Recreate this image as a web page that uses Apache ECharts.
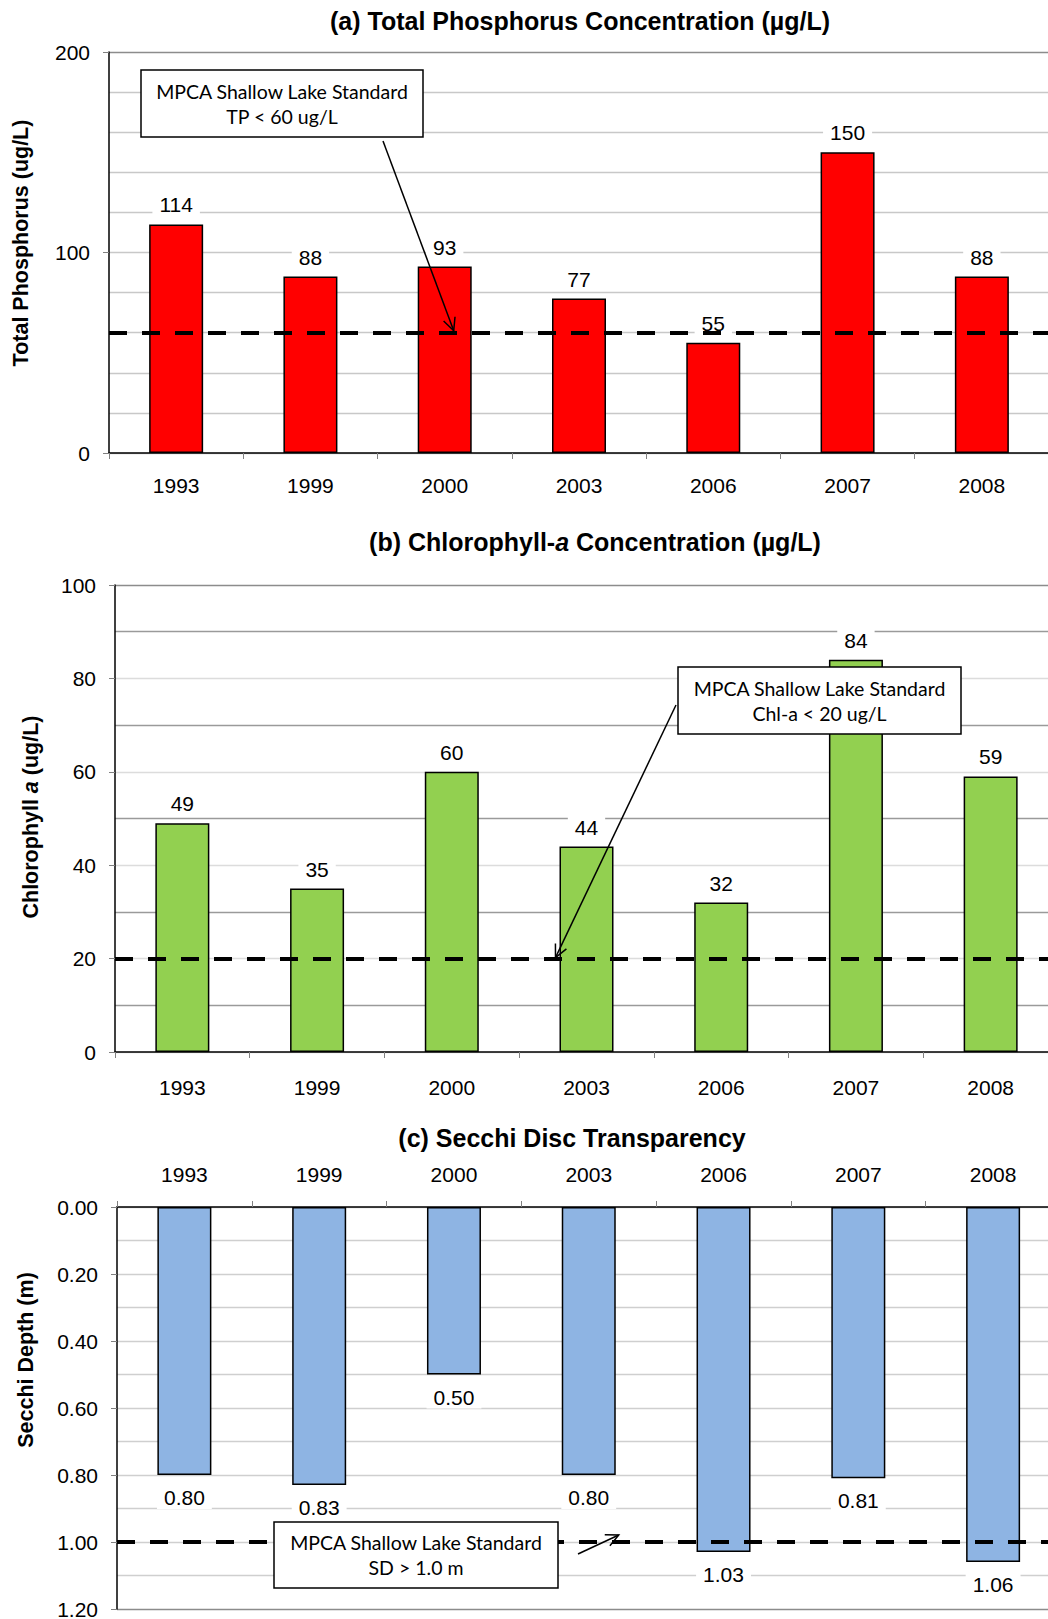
<!DOCTYPE html>
<html>
<head>
<meta charset="utf-8">
<script src="https://cdn.jsdelivr.net/npm/echarts@6/dist/echarts.min.js"></script>
<style>
  html, body { margin: 0; padding: 0; background: #fff; }
  #chart { width: 1048px; height: 1619px; }
</style>
</head>
<body>
<div id="chart"></div>
<script>
// Sampling years shared by all three panels
const years = ['1993', '1999', '2000', '2003', '2006', '2007', '2008'];

// (a) Total phosphorus, ug/L
const tpValues = [114, 88, 93, 77, 55, 150, 88];
const tpStandard = 60;

// (b) Chlorophyll-a, ug/L
const chlaValues = [49, 35, 60, 44, 32, 84, 59];
const chlaStandard = 20;

// (c) Secchi depth, m
const secchiValues = [0.80, 0.83, 0.50, 0.80, 1.03, 0.81, 1.06];
const secchiStandard = 1.0;

// Standard call-out texts
const tpNote = ['MPCA Shallow Lake Standard', 'TP < 60 ug/L'];
const chlaNote = ['MPCA Shallow Lake Standard', 'Chl-a < 20 ug/L'];
const secchiNote = ['MPCA Shallow Lake Standard', 'SD > 1.0 m'];

const FONT = '"Liberation Sans", Arial, Helvetica, sans-serif';
const NOTE_FONT = 'Lato, "Open Sans", sans-serif';
const TICK_SIZE = 21;

const chart = echarts.init(document.getElementById('chart'), null, { renderer: 'svg' });

function categoryAxis(gridIndex, position, margin) {
  return {
    type: 'category',
    gridIndex,
    position,
    data: years,
    axisLine: { show: true, lineStyle: { color: '#000', width: 1.5 } },
    axisTick: { show: true, length: 6, lineStyle: { color: '#808080', width: 1 } },
    axisLabel: { fontSize: TICK_SIZE, color: '#000', fontFamily: FONT, margin },
    splitLine: { show: false }
  };
}

function valueAxis(gridIndex, cfg) {
  return Object.assign({
    type: 'value',
    gridIndex,
    axisLine: { show: true, lineStyle: { color: '#000', width: 1.5 } },
    axisTick: { show: true, length: 6, lineStyle: { color: '#808080', width: 1 } },
    axisLabel: { fontSize: TICK_SIZE, color: '#000', fontFamily: FONT, margin: 19 },
    minorTick: { show: false, splitNumber: 2 },
    minorSplitLine: { show: true, lineStyle: { color: '#c8c8c8', width: 1.3 } },
    splitLine: { show: true, lineStyle: { color: '#c8c8c8', width: 1.3 } }
  }, cfg);
}

function standardLine(value) {
  return {
    silent: true,
    symbol: 'none',
    label: { show: false },
    emphasis: { disabled: true },
    lineStyle: { color: '#000', type: [18, 15], width: 4 },
    data: [{ yAxis: value }]
  };
}

function valueLabel(position, distance, formatter) {
  return {
    show: true,
    position,
    distance,
    fontSize: TICK_SIZE,
    color: '#000',
    fontFamily: FONT,
    backgroundColor: '#fff',
    padding: [1, 7],
    formatter
  };
}

const option = {
  animation: false,
  backgroundColor: '#fff',
  grid: [
    { left: 109, top: 52, width: 940, height: 401, outerBoundsMode: 'none' },
    { left: 115, top: 585, width: 943, height: 467, outerBoundsMode: 'none' },
    { left: 117, top: 1207, width: 943.5, height: 402, outerBoundsMode: 'none' }
  ],
  xAxis: [
    categoryAxis(0, 'bottom', 22),
    categoryAxis(1, 'bottom', 25),
    categoryAxis(2, 'top', 22)
  ],
  yAxis: [
    valueAxis(0, {
      min: 0, max: 200, interval: 100,
      minorTick: { show: false, splitNumber: 5 },
      splitLine: { show: true, lineStyle: { color: ['#c8c8c8', '#c8c8c8', '#8c8c8c'], width: 1.3 } }
    }),
    valueAxis(1, {
      min: 0, max: 100, interval: 20,
      minorSplitLine: { show: true, lineStyle: { color: '#9a9a9a', width: 1.3 } },
      splitLine: { show: true, lineStyle: { color: ['#dcdcdc', '#dcdcdc', '#dcdcdc', '#dcdcdc', '#dcdcdc', '#8c8c8c'], width: 1.3 } }
    }),
    valueAxis(2, {
      min: 0, max: 1.2, interval: 0.2, inverse: true,
      axisLabel: { fontSize: TICK_SIZE, color: '#000', fontFamily: FONT, margin: 19, formatter: v => v.toFixed(2) },
      minorSplitLine: { show: true, lineStyle: { color: '#cfcfcf', width: 1.3 } },
      splitLine: { show: true, lineStyle: { color: ['#cfcfcf', '#cfcfcf', '#cfcfcf', '#cfcfcf', '#cfcfcf', '#cfcfcf', '#8c8c8c'], width: 1.3 } }
    })
  ],
  series: [
    {
      type: 'bar', xAxisIndex: 0, yAxisIndex: 0, data: tpValues, barWidth: 54,
      itemStyle: { color: '#ff0000', borderColor: '#000', borderWidth: 1.5 },
      label: valueLabel('top', 8),
      emphasis: { disabled: true },
      markLine: standardLine(tpStandard)
    },
    {
      type: 'bar', xAxisIndex: 1, yAxisIndex: 1, data: chlaValues, barWidth: 54,
      itemStyle: { color: '#92d050', borderColor: '#000', borderWidth: 1.5 },
      label: valueLabel('top', 8),
      emphasis: { disabled: true },
      markLine: standardLine(chlaStandard)
    },
    {
      type: 'bar', xAxisIndex: 2, yAxisIndex: 2, data: secchiValues, barWidth: 54,
      itemStyle: { color: '#8eb4e3', borderColor: '#000', borderWidth: 1.5 },
      label: valueLabel('bottom', 11, p => p.value.toFixed(2)),
      emphasis: { disabled: true },
      markLine: standardLine(secchiStandard)
    }
  ]
};

chart.setOption(option);

// Pixel position of a (category, value) pair in a panel
function px(panel, cat, val) {
  return chart.convertToPixel({ xAxisIndex: panel, yAxisIndex: panel }, [cat, val]);
}

function text(x, y, str, extra) {
  return {
    type: 'text', x, y, z: 120,
    style: Object.assign({
      text: str, fill: '#000', fontFamily: FONT, fontSize: 20,
      align: 'center', verticalAlign: 'middle'
    }, extra || {})
  };
}

function noteBox(x, y, w, h, lines) {
  const cx = x + w / 2, cy = y + h / 2;
  return [
    { type: 'rect', z: 110, shape: { x, y, width: w, height: h },
      style: { fill: '#fff', stroke: '#000', lineWidth: 1.5 } },
    text(cx, cy - 12.5, lines[0], { fontFamily: NOTE_FONT, fontSize: 19.5 }),
    text(cx, cy + 12.5, lines[1], { fontFamily: NOTE_FONT, fontSize: 19.5 })
  ];
}

function arrow(from, to) {
  const ang = Math.atan2(to[1] - from[1], to[0] - from[0]);
  const len = 14, spread = 0.45;
  const a1 = [to[0] - len * Math.cos(ang - spread), to[1] - len * Math.sin(ang - spread)];
  const a2 = [to[0] - len * Math.cos(ang + spread), to[1] - len * Math.sin(ang + spread)];
  return [
    { type: 'line', z: 115, shape: { x1: from[0], y1: from[1], x2: to[0], y2: to[1] },
      style: { stroke: '#000', lineWidth: 1.5 } },
    { type: 'polyline', z: 115, shape: { points: [a1, to, a2] },
      style: { stroke: '#000', lineWidth: 1.5, fill: null } }
  ];
}

const tpTip = px(0, '2000', tpStandard);
const chlaTip = px(1, '2003', chlaStandard);
const sdTip = px(2, '2003', secchiStandard);

const TITLE = { fontSize: 25, fontWeight: 'bold' };
const AXIS_NAME = { fontSize: 21.5, fontWeight: 'bold' };

const graphics = [
  // panel titles
  text(580, 21, '(a) Total Phosphorus Concentration (µg/L)', TITLE),
  text(595, 542, '(b) Chlorophyll-{i|a} Concentration (µg/L)', Object.assign({
    rich: { i: { fontSize: 25, fontWeight: 'bold', fontStyle: 'italic', fontFamily: FONT, fill: '#000' } }
  }, TITLE)),
  text(572, 1138, '(c) Secchi Disc Transparency', TITLE),
  // axis names
  Object.assign(text(21, 243, 'Total Phosphorus (ug/L)', AXIS_NAME), { rotation: Math.PI / 2 }),
  Object.assign(text(31, 817, 'Chlorophyll {i|a} (ug/L)', Object.assign({
    rich: { i: { fontSize: 21.5, fontWeight: 'bold', fontStyle: 'italic', fontFamily: FONT, fill: '#000' } }
  }, AXIS_NAME)), { rotation: Math.PI / 2 }),
  Object.assign(text(26, 1360, 'Secchi Depth (m)', AXIS_NAME), { rotation: Math.PI / 2 }),
  // standard call-outs
  ...noteBox(141, 70, 282, 67, tpNote),
  ...arrow([383, 141], [tpTip[0] + 9, tpTip[1] - 2]),
  ...noteBox(678, 667, 283, 67, chlaNote),
  ...arrow([676, 705], [chlaTip[0] - 31, chlaTip[1] - 1]),
  ...noteBox(274, 1522, 284, 66, secchiNote),
  ...arrow([578, 1554], [sdTip[0] + 30, sdTip[1] - 7])
];

chart.setOption({ graphic: graphics });
</script>
</body>
</html>
